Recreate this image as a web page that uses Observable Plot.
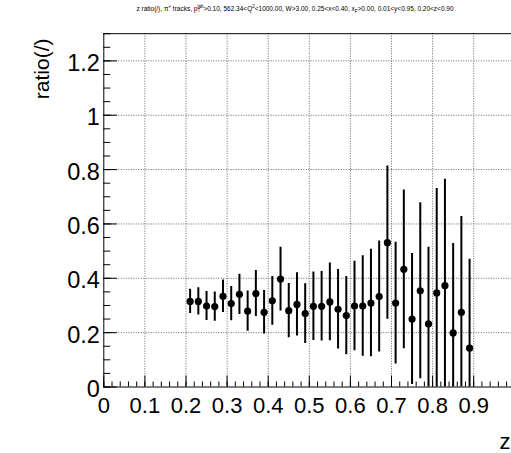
<!DOCTYPE html>
<html><head><meta charset="utf-8">
<script src="https://cdn.jsdelivr.net/npm/d3@7"></script>
<script src="https://cdn.jsdelivr.net/npm/@observablehq/plot@0.6"></script>
<style>
body{margin:0;background:#fff;}
#wrap{position:relative;width:511px;height:453px;overflow:hidden;background:#fff;}
#title{position:absolute;left:0;width:590px;top:5px;text-align:center;font:6.5px "Liberation Sans",Arial,sans-serif;white-space:nowrap;color:#000;line-height:8px}
#title sup,#title sub{font-size:4.5px;line-height:0}
.ss{display:inline-block;vertical-align:middle;line-height:4px;font-size:4.5px;text-align:left}
#chart{position:absolute;left:0;top:0}
</style></head><body>
<div id="wrap"><div id="chart"></div>
<div id="title">z ratio(/), π<sup>+</sup> tracks, p<span class="ss">lab<br>T</span>&gt;0.10, 562.34&lt;Q<sup>2</sup>&lt;1000.00, W&gt;3.00, 0.25&lt;x&lt;0.40, x<sub>F</sub>&gt;0.00, 0.01&lt;y&lt;0.95, 0.20&lt;z&lt;0.90</div>
</div>
<script>
const zBins = [0.21,0.23,0.25,0.27,0.29,0.31,0.33,0.35,0.37,0.39,0.41,0.43,0.45,0.47,0.49,0.51,0.53,0.55,0.57,0.59,0.61,0.63,0.65,0.67,0.69,0.71,0.73,0.75,0.77,0.79,0.81,0.83,0.85,0.87,0.89];
const ratio = [0.315,0.315,0.298,0.296,0.334,0.307,0.341,0.279,0.344,0.275,0.317,0.397,0.281,0.304,0.270,0.297,0.297,0.313,0.286,0.263,0.298,0.298,0.309,0.333,0.531,0.309,0.433,0.250,0.354,0.232,0.346,0.373,0.199,0.275,0.143];
const ratioErr = [0.045,0.050,0.053,0.054,0.060,0.063,0.074,0.074,0.085,0.080,0.090,0.117,0.100,0.116,0.110,0.126,0.128,0.143,0.146,0.144,0.165,0.185,0.198,0.204,0.282,0.224,0.292,0.241,0.324,0.282,0.384,0.391,0.329,0.352,0.327];
const xTicks = [0,0.1,0.2,0.3,0.4,0.5,0.6,0.7,0.8,0.9];
const yTicks = [0,0.2,0.4,0.6,0.8,1,1.2];
const xTitle = "z";
const yTitle = "ratio(/)";

const data = zBins.map((z,i)=>({z, r: ratio[i], lo: ratio[i]-ratioErr[i], hi: ratio[i]+ratioErr[i]}));
const minorX = d3.range(0, 1.0001, 0.02);
const minorY = d3.range(0, 1.3001, 0.05);
const font = '"Liberation Sans", Arial, Helvetica, sans-serif';
const grid = {stroke:"#666", strokeOpacity:1, strokeWidth:1, strokeDasharray:"1,1.5"};

const chart = Plot.plot({
  width: 511, height: 453,
  marginLeft: 103.3, marginRight: 0, marginTop: 33.2, marginBottom: 66.5,
  x: {domain:[0,1], range:[103.3,514.3], axis:null},
  y: {domain:[0,1.3], range:[386.5,33.2], axis:null},
  style: {fontFamily: font, background:"transparent", overflow:"visible"},
  marks: [
    Plot.gridX(xTicks.filter(d=>d>0), grid),
    Plot.gridY(yTicks.filter(d=>d>0), grid),
    Plot.axisX(minorX, {anchor:"bottom", tickSize:-5, tickFormat:()=>"", label:null, stroke:"#000"}),
    Plot.axisX(xTicks, {anchor:"bottom", tickSize:-11, tickFormat:()=>"", label:null, stroke:"#000"}),
    Plot.axisY(minorY, {anchor:"left", tickSize:-7, tickFormat:()=>"", label:null, stroke:"#000"}),
    Plot.axisY(yTicks, {anchor:"left", tickSize:-13.5, tickFormat:()=>"", label:null, stroke:"#000"}),
    Plot.ruleX([0], {stroke:"#000"}),
    Plot.ruleY([0, 1.3], {stroke:"#000"}),
    Plot.ruleX(data, {x:"z", y1:"lo", y2:"hi", stroke:"#000", strokeWidth:2, clip:true}),
    Plot.dot(data, {x:"z", y:"r", r:3.6, fill:"#000", stroke:null}),
    Plot.text(xTicks, {x:d=>d, y:0, text:d=>String(d), textAnchor:"middle", lineAnchor:"bottom", dy:25.5, fontSize:22, fill:"#000"}),
    Plot.text(yTicks, {x:0, y:d=>d, text:d=>String(d), textAnchor:"end", lineAnchor:"middle", dx:-4, dy:2.5, fontSize:23.5, fill:"#000"}),
    Plot.text([yTitle], {frameAnchor:"top-left", rotate:-90, textAnchor:"end", lineAnchor:"bottom", dx:48-103.3, dy:38-33.2, fontSize:21, fill:"#000"}),
    Plot.text([xTitle], {frameAnchor:"bottom-right", textAnchor:"end", lineAnchor:"bottom", dx:-1, dy:61.8, fontSize:22, fill:"#000"})
  ]
});
document.getElementById("chart").appendChild(chart);
</script>
</body></html>
